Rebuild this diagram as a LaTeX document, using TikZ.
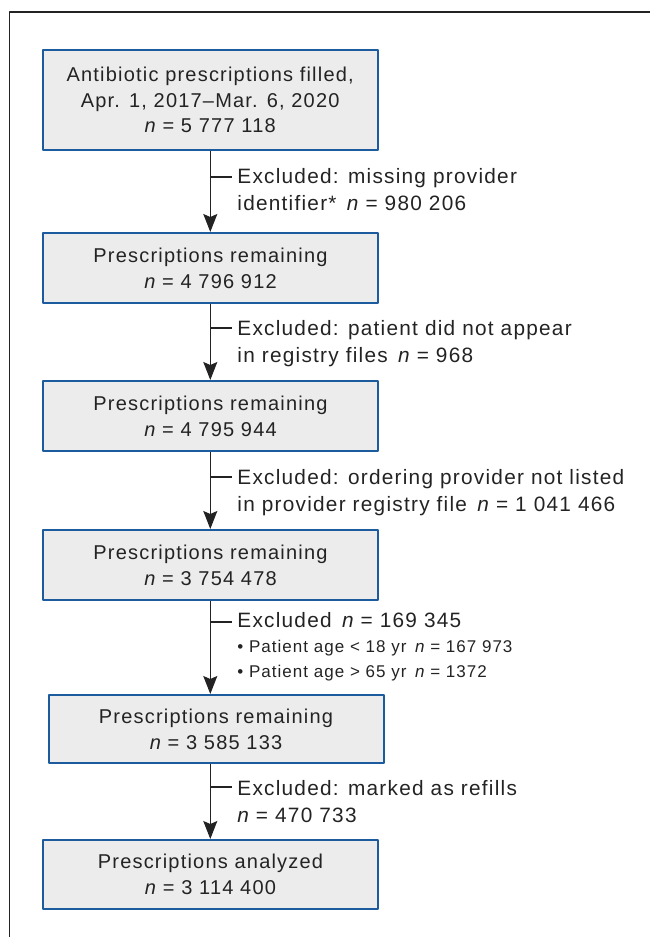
\documentclass[tikz,border=0pt]{standalone}
\usepackage{fontspec}
\setmainfont{Liberation Sans}
\newfontfamily\flowfont[LetterSpace=6]{Liberation Sans}
\usetikzlibrary{arrows.meta}
\definecolor{boxblue}{RGB}{28,92,158}
\definecolor{boxgray}{RGB}{236,236,236}
\definecolor{ink}{RGB}{35,35,35}
\begin{document}
\begin{tikzpicture}[x=0.5pt, y=-0.5pt, line join=round, >={Stealth[length=9pt,width=7pt,inset=1.5pt]},
  flowbox/.style={draw=boxblue, line width=1pt, fill=boxgray, minimum width=167.5pt, align=center, inner sep=0pt, text=ink, font=\flowfont\fontsize{10}{12.9}\selectfont},
  exclnote/.style={anchor=north west, align=left, inner sep=0pt, text=ink, font=\flowfont\fontsize{10.4}{13.5}\selectfont}]
 \useasboundingbox (0,0) rectangle (650,937);
 \draw[line width=0.8pt, draw=ink] (650,11.7) -- (9.3,11.7) -- (9.3,937);
 \coordinate (spine) at (210.3,0);
 % boxes
 \node[flowbox, minimum height=50pt] (filled) at (210.2,100) {Antibiotic prescriptions filled,\\Apr. 1, 2017–Mar. 6, 2020\\{\itshape n} = 5 777 118};
 \node[flowbox, minimum height=35pt] (rem1) at (210.5,268) {Prescriptions remaining\\{\itshape n} = 4 796 912};
 \node[flowbox, minimum height=35pt] (rem2) at (210.5,416) {Prescriptions remaining\\{\itshape n} = 4 795 944};
 \node[flowbox, minimum height=35pt] (rem3) at (210.5,565) {Prescriptions remaining\\{\itshape n} = 3 754 478};
 \node[flowbox, minimum height=34pt] (rem4) at (216,729) {Prescriptions remaining\\{\itshape n} = 3 585 133};
 \node[flowbox, minimum height=34.5pt] (analyzed) at (210.5,874.5) {Prescriptions analyzed\\{\itshape n} = 3 114 400};
 % exclusions
 \node[exclnote] (ex1) at (237,168) {Excluded: missing provider\\identifier*\enspace{\itshape n} = 980 206};
 \node[exclnote] (ex2) at (237,320) {Excluded: patient did not appear\\in registry files\enspace{\itshape n} = 968};
 \node[exclnote] (ex3) at (237,469) {Excluded: ordering provider not listed\\in provider registry file\enspace{\itshape n} = 1 041 466};
 \node[exclnote] (ex4) at (237,612) {Excluded\enspace{\itshape n} = 169 345\\[-1pt]{\flowfont\fontsize{8.5}{11}\selectfont • Patient age < 18 yr\enspace{\itshape n} = 167 973}\\[-1pt]{\flowfont\fontsize{8.5}{11}\selectfont • Patient age > 65 yr\enspace{\itshape n} = 1372}};
 \node[exclnote] (ex5) at (237,780) {Excluded: marked as refills\\{\itshape n} = 470 733};
 % arrows
 \foreach \a/\b in {filled/rem1, rem1/rem2, rem2/rem3, rem3/rem4, rem4/analyzed}
  \draw[->, line width=0.6pt, draw=ink] (\a.south -| spine) -- (\b.north -| spine);
 \foreach \e/\y in {ex1/177, ex2/328, ex3/477, ex4/622, ex5/787}{
  \coordinate (tick) at (210.3,\y);
  \draw[line width=0.6pt, draw=ink] (tick) -- ([xshift=-2.5pt]tick -| \e.west);
 }
\end{tikzpicture}
\end{document}
